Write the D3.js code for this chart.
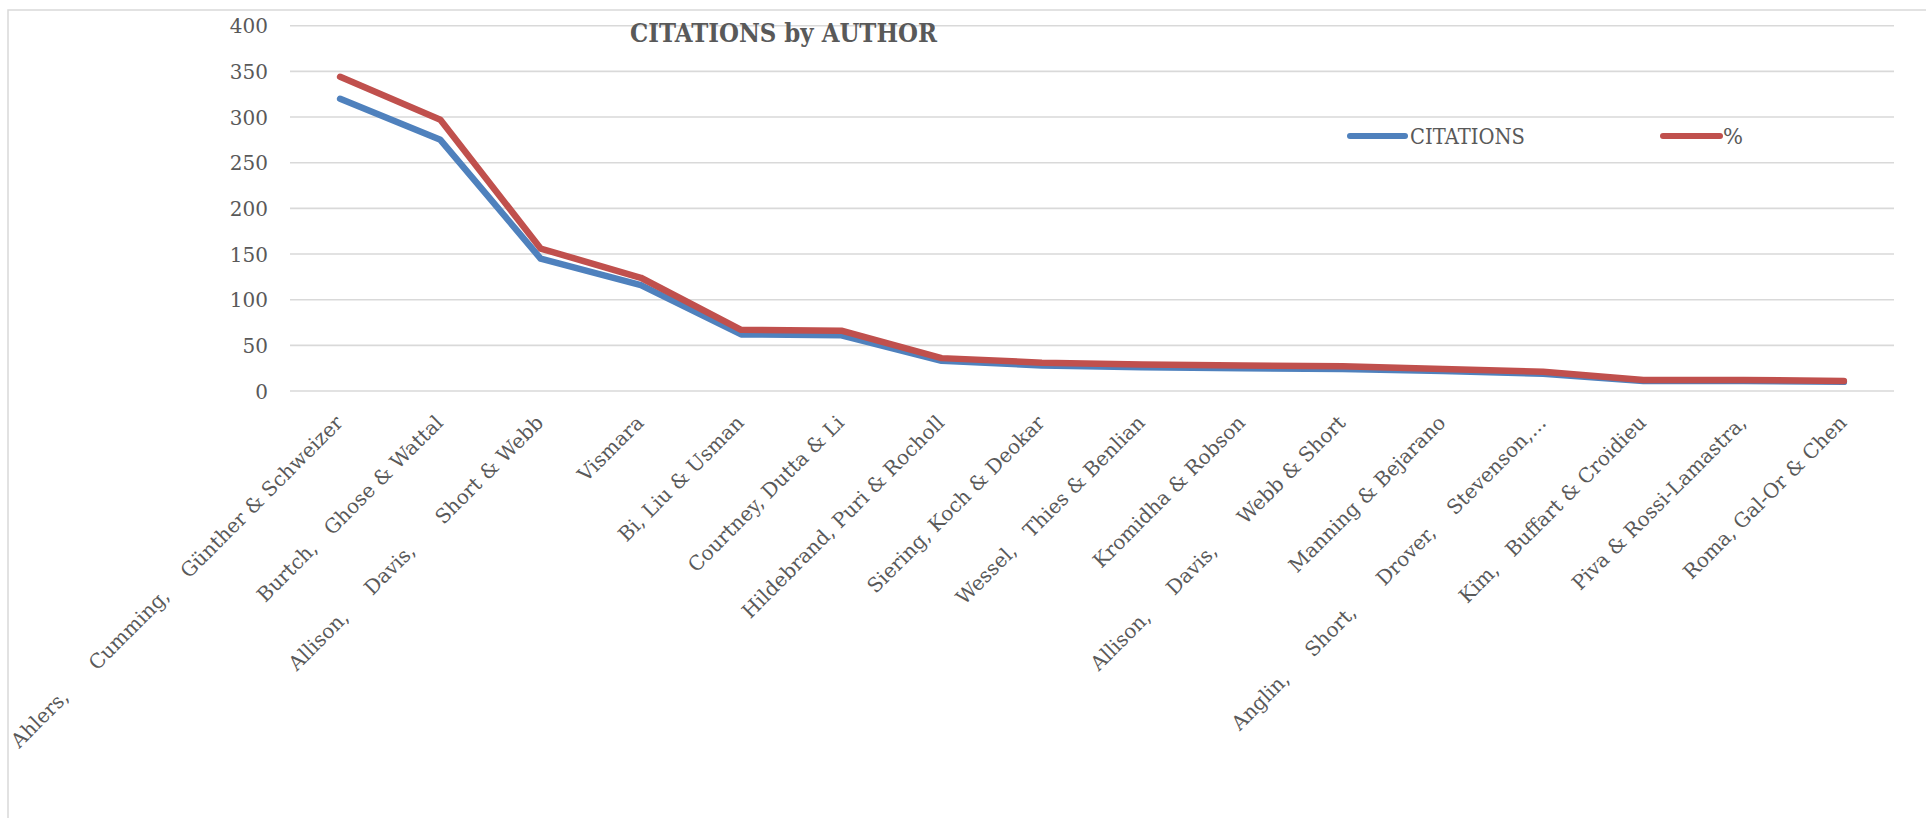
<!DOCTYPE html>
<html>
<head>
<meta charset="utf-8">
<script src="https://cdn.jsdelivr.net/npm/d3@7"></script>
<style>
  html, body { margin: 0; padding: 0; background: #fff; }
  svg { display: block; }
  text { white-space: pre; }
</style>
</head>
<body>
<svg id="chart" width="1926" height="818"></svg>
<script>
// ---- data ----
const categories = [
  "Ahlers,      Cumming,    Günther & Schweizer",
  "Burtch,   Ghose & Wattal",
  "Allison,     Davis,      Short & Webb",
  "Vismara",
  "Bi, Liu & Usman",
  "Courtney, Dutta & Li",
  "Hildebrand, Puri & Rocholl",
  "Siering, Koch & Deokar",
  "Wessel,   Thies & Benlian",
  "Kromidha & Robson",
  "Allison,     Davis,      Webb & Short",
  "Manning & Bejarano",
  "Anglin,     Short,      Drover,    Stevenson,...",
  "Kim,   Buffart & Croidieu",
  "Piva & Rossi-Lamastra,",
  "Roma, Gal-Or & Chen"
];
const citations = [320, 275, 145, 116, 62, 61, 33, 28, 26, 25, 24, 22, 19, 11, 11, 10];
const percent   = [344, 297, 156, 124, 67, 66, 36, 31, 29, 28, 27, 24, 21, 12, 12, 11];
const yTicks = [0, 50, 100, 150, 200, 250, 300, 350, 400];
const seriesNames = ["CITATIONS", "%"];
const title = "CITATIONS by AUTHOR";

// ---- drawing ----
const svg = d3.select("#chart");
const textColor = "#595959";
const gridColor = "#D9D9D9";
const colors = ["#4F81BD", "#C0504D"];
const serif = "'DejaVu Serif', 'Liberation Serif', serif";

// outer border (left + top visible)
svg.append("rect")
  .attr("x", 8).attr("y", 10)
  .attr("width", 1940).attr("height", 830)
  .attr("fill", "none").attr("stroke", gridColor).attr("stroke-width", 1.5);

const x = d3.scaleBand().domain(categories).range([290, 1894]);
const y = d3.scaleLinear().domain([0, 400]).range([391, 25.7]);
const cx = c => x(c) + x.bandwidth() / 2;

// gridlines
svg.append("g").selectAll("line").data(yTicks).join("line")
  .attr("x1", 290).attr("x2", 1894)
  .attr("y1", d => y(d)).attr("y2", d => y(d))
  .attr("stroke", gridColor).attr("stroke-width", 1.6);

// y axis labels
const yAxis = d3.axisLeft(y).tickValues(yTicks).tickSize(0).tickPadding(0);
const yg = svg.append("g").attr("transform", "translate(268,0)").call(yAxis);
yg.select(".domain").remove();
yg.selectAll("text")
  .attr("font-family", serif).attr("font-size", 20)
  .attr("fill", textColor).attr("x", 0).attr("dy", "0.36em");

// x axis labels
svg.append("g").selectAll("text").data(categories).join("text")
  .attr("transform", d => `translate(${cx(d) + 4},${424}) rotate(-45)`)
  .attr("text-anchor", "end")
  .attr("font-family", serif).attr("font-size", 20)
  .attr("fill", textColor)
  .attr("xml:space", "preserve")
  .text(d => d);

// title
svg.append("text")
  .attr("x", 630).attr("y", 42.3)
  .attr("font-family", serif).attr("font-weight", "bold").attr("font-size", 26)
  .attr("fill", textColor)
  .attr("textLength", 307).attr("lengthAdjust", "spacingAndGlyphs")
  .text(title);

// lines
const series = [citations, percent];
const line = d3.line().x((d, i) => cx(categories[i])).y(d => y(d));
svg.append("g").selectAll("path").data(series).join("path")
  .attr("d", d => line(d))
  .attr("fill", "none")
  .attr("stroke", (d, i) => colors[i])
  .attr("stroke-width", 6.5)
  .attr("stroke-linecap", "round")
  .attr("stroke-linejoin", "round");

// legend
const legendItems = [
  { x1: 1350, x2: 1405, tx: 1410, tl: 115 },
  { x1: 1663, x2: 1720, tx: 1723, tl: 20 }
];
const lg = svg.append("g");
legendItems.forEach((it, i) => {
  lg.append("line")
    .attr("x1", it.x1).attr("x2", it.x2).attr("y1", 136).attr("y2", 136)
    .attr("stroke", colors[i]).attr("stroke-width", 6).attr("stroke-linecap", "round");
  lg.append("text")
    .attr("x", it.tx).attr("y", 144.3)
    .attr("font-family", serif).attr("font-size", 23)
    .attr("fill", textColor)
    .attr("textLength", it.tl).attr("lengthAdjust", "spacingAndGlyphs")
    .text(seriesNames[i]);
});
</script>
</body>
</html>
